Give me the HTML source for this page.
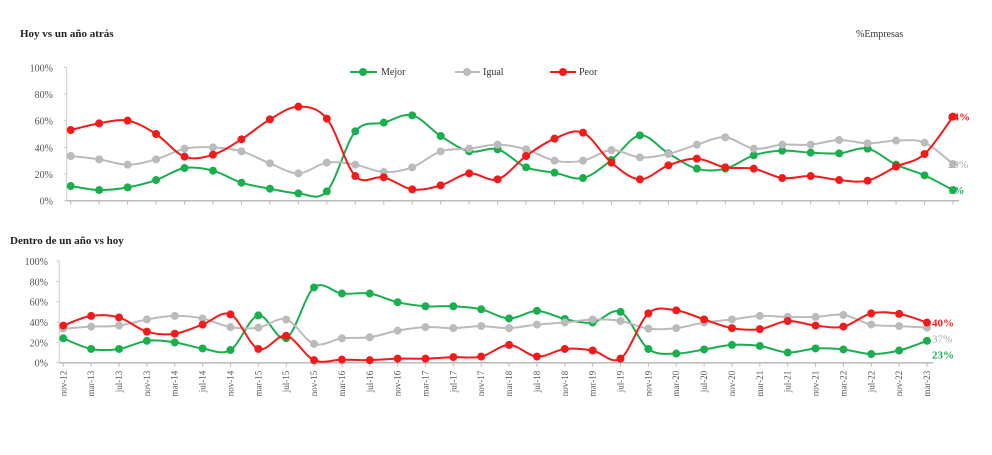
<!DOCTYPE html>
<html><head><meta charset="utf-8"><style>
body{margin:0;background:#fff;width:992px;height:450px;overflow:hidden}
svg text{font-family:"Liberation Serif",serif}
</style></head><body>
<svg id="c" width="992" height="450" viewBox="0 0 992 450" xmlns="http://www.w3.org/2000/svg">
<text x="20" y="37" font-size="11" font-weight="bold" fill="#222">Hoy vs un año atrás</text>
<text x="856" y="37" font-size="10" fill="#333">%Empresas</text>
<text x="10" y="244" font-size="11" font-weight="bold" fill="#222">Dentro de un año vs hoy</text>
<g>
<g><line x1="350" y1="72" x2="377" y2="72" stroke="#1aae4e" stroke-width="2"/><circle cx="363" cy="72" r="4" fill="#1aae4e"/><text x="381" y="75" font-size="10" fill="#333">Mejor</text></g>
<g><line x1="455" y1="72" x2="480" y2="72" stroke="#bbb" stroke-width="2"/><circle cx="467" cy="72" r="4" fill="#bbb"/><text x="483" y="75" font-size="10" fill="#333">Igual</text></g>
<g><line x1="550" y1="72" x2="576" y2="72" stroke="#f21a1a" stroke-width="2"/><circle cx="563" cy="72" r="4" fill="#f21a1a"/><text x="579" y="75" font-size="10" fill="#333">Peor</text></g>
</g>
</svg>
<script>
const categories=["nov-12","mar-13","jul-13","nov-13","mar-14","jul-14","nov-14","mar-15","jul-15","nov-15","mar-16","jul-16","nov-16","mar-17","jul-17","nov-17","mar-18","jul-18","nov-18","mar-19","jul-19","nov-19","mar-20","jul-20","nov-20","mar-21","jul-21","nov-21","mar-22","jul-22","nov-22","mar-23"];
const yTicks=[0,20,40,60,80,100];
const topMejor=[11,8,10,15.5,24.5,22.5,13.5,9,5.5,7,52,58.5,64,48.5,37,38.5,25,21,17,30.5,49,35.5,24,24,34,37.5,36,35.5,39,27,19,8];
const topIgual=[33.5,31,27,31,39,40,37,28,20.5,28.5,27,21.5,25,37,39,42,38.5,30,30,38,32.5,35,42,47.5,39,42,42,45.5,43,45,43.5,27.5];
const topPeor=[53,58,60,50,33,34.5,46,61,70.5,61.5,18.5,17.5,8.5,11.5,20.5,16,33.5,46.5,51,28.5,16,26.5,31.5,25,24,17,18.5,15.5,15,25.5,35,63];
const botMejor=[24,13.5,13.5,21.5,20,14,12.5,46.5,24,74,68,68,59.5,55.5,55.5,52.5,43.5,51,43,39.5,50,13.5,9,13,17.5,16.5,10,14,13,8.5,12,21.5];
const botIgual=[33.5,35.5,36.5,42.5,46,43.5,35,34.5,42.5,18.5,24,25,31.5,35,34,36,34,37.5,39.5,42.5,41,33.5,34,39.5,42.5,46,45,45,47,37.5,36,34.5];
const botPeor=[36.5,46,44.5,30.5,28.5,37.5,47.5,13.5,26.5,2.5,3,2.5,4,4,5.5,6,17.5,6,13.5,12,4,48.5,51.5,42.5,34,33,41,36.5,35.5,48.5,48,39.5];
const topEnd=["64%","29%","7%"];
const botEnd=["40%","37%","23%"];
const NS="http://www.w3.org/2000/svg";
const svg=document.getElementById('c');
const COL={m:"#1aae4e",i:"#bbb",p:"#f21a1a"};
function mk(t,a,p){const e=document.createElementNS(NS,t);for(const k in a)e.setAttribute(k,a[k]);(p||svg).appendChild(e);return e;}
function panel(name,x0,x1,y0,y100,labRight,series,ends,endX,showX){
  const n=categories.length;
  const xs=i=>x0+(x1-x0)*i/(n-1);
  const ys=v=>y0+(y100-y0)*v/100;
  const g=mk('g',{});
  
  
  const ax=mk('line',{x1:x0-4,y1:y0,x2:x1+6,y2:y0,stroke:"#bbb","stroke-width":1.5},g);
  
  
  const ay=mk('line',{x1:x0-4,y1:y0,x2:x0-4,y2:y100,stroke:"#ccc","stroke-width":1},g);
  
  
  yTicks.forEach(t=>{
    const tt=mk('text',{x:labRight,y:ys(t)+4,"font-size":10,fill:"#555","text-anchor":"end"},g);
    tt.textContent=t+"%";
    
    
    mk('line',{x1:x0-7,y1:ys(t),x2:x0-4,y2:ys(t),stroke:"#ccc"},g);
  });
  for(let i=0;i<n;i++){
    mk('line',{x1:xs(i),y1:y0,x2:xs(i),y2:y0+4,stroke:"#bbb"},g);
    if(showX){
      const tx=mk('text',{x:0,y:0,"font-size":9,fill:"#555","text-anchor":"end",transform:`translate(${xs(i)+3},${y0+8}) rotate(-90)`},g);
      tx.textContent=categories[i];
      
      
    }
  }
  series.forEach(([key,vals,sn])=>{
    const pts=vals.map((v,i)=>[xs(i),ys(v)]);
    let d=`M${pts[0][0]},${pts[0][1]}`;
    for(let i=0;i<pts.length-1;i++){
      const p0=pts[Math.max(0,i-1)],p1=pts[i],p2=pts[i+1],p3=pts[Math.min(pts.length-1,i+2)];
      const t=0.5/3;
      d+=` C${p1[0]+(p2[0]-p0[0])*t},${p1[1]+(p2[1]-p0[1])*t} ${p2[0]-(p3[0]-p1[0])*t},${p2[1]-(p3[1]-p1[1])*t} ${p2[0]},${p2[1]}`;
    }
    const path=mk('path',{d:d,fill:"none",stroke:COL[key],"stroke-width":2},g);
    
    
    pts.forEach(p=>{
      const c=mk('circle',{cx:p[0],cy:p[1],r:4,fill:COL[key]},g);
      
      
    });
  });
  const keys=["p","i","m"];
  const lastVals=[series[2][1],series[1][1],series[0][1]].map(a=>a[a.length-1]);
  let yy=lastVals.map(v=>ys(v)+4);
  const order=[0,1,2].sort((a,b)=>yy[a]-yy[b]);
  for(let k=1;k<3;k++){if(yy[order[k]]-yy[order[k-1]]<16)yy[order[k]]=yy[order[k-1]]+16;}
  ends.forEach((s,k)=>{
    const t=mk('text',{x:endX,y:yy[k],"font-size":11,"font-weight":k===1?"normal":"bold",fill:k===1?"#aaa":COL[keys[k]]},g);
    t.textContent=s;
    
    
  });
}
panel('top-panel',70.7,953,200.7,67.3,53,[["m",topMejor,"mejor"],["i",topIgual,"igual"],["p",topPeor,"peor"]],topEnd,948,false);
panel('bottom-panel',63.3,927,362.7,261,48,[["m",botMejor,"mejor"],["i",botIgual,"igual"],["p",botPeor,"peor"]],botEnd,932,true);
</script>
</body></html>
